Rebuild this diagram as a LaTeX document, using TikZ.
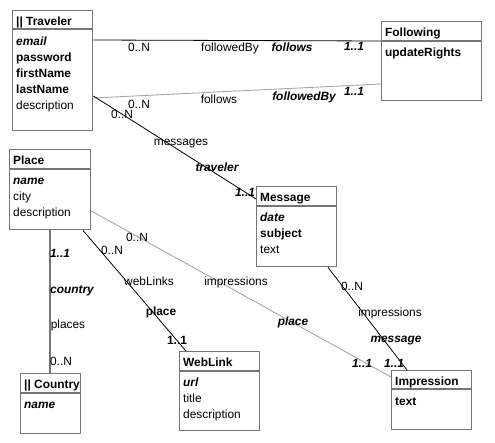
\documentclass[tikz,border=0pt]{standalone}
\usepackage{fontspec}
\setmainfont{Liberation Sans}
\definecolor{boxgray}{RGB}{118,118,118}
\definecolor{linkgray}{RGB}{165,165,165}
\begin{document}
\begin{tikzpicture}[x=1pt, y=-1pt,
    entity/.style={draw=boxgray, line width=1.4pt, rectangle, anchor=north west, inner sep=0pt},
    hdr/.style={draw=boxgray, line width=1.4pt},
    title/.style={anchor=base west, inner sep=0pt, font=\txt\bfseries},
    key/.style={anchor=base west, inner sep=0pt, font=\txt\bfseries\itshape},
    req/.style={anchor=base west, inner sep=0pt, font=\txt\bfseries},
    plain/.style={anchor=base west, inner sep=0pt, font=\txt},
    lbl/.style={anchor=base, inner sep=0pt, font=\txt},
    role/.style={anchor=base, inner sep=0pt, font=\txt\bfseries\itshape},
    bold/.style={anchor=base, inner sep=0pt, font=\txt\bfseries},
    link/.style={draw=black, line width=0.8pt},
    glink/.style={draw=linkgray, line width=0.9pt},
    tlink/.style={draw=boxgray, line width=1.6pt}]
  \def\txt{\fontsize{11.9}{14}\selectfont}
  \useasboundingbox (0,0) rectangle (495,442);
  % entities
  \foreach \n/\x/\y/\w/\h/\d/\t in {traveler/12/10/80/120/19/{|| Traveler},
      following/381/21/100/79/20/Following, place/9/149/81/80/20/Place,
      message/256/186/80/80/20/Message, country/20/373/60/60/20/{|| Country},
      weblink/179/351/80/79/20/WebLink, impression/391/370/80/59/19/Impression} {
    \node[entity, minimum width=\w pt, minimum height=\h pt] (\n) at (\x,\y) {};
    \draw[hdr] ([yshift=-\d pt]\n.north west) -- ([yshift=-\d pt]\n.north east);
    \node[title] (\n T) at ([xshift=4pt,yshift=-15pt]\n.north west) {\t};
  }
  % attributes
  \foreach \n/\i/\s/\f in {traveler/1/key/email, traveler/2/req/password,
      traveler/3/req/firstName, traveler/4/req/lastName, traveler/5/plain/description,
      following/1/req/updateRights, place/1/key/name, place/2/plain/city,
      place/3/plain/description, message/1/key/date, message/2/req/subject,
      message/3/plain/text, country/1/key/name, weblink/1/key/url,
      weblink/2/plain/title, weblink/3/plain/description, impression/1/req/text}
    \node[\s] (\n\i) at ([xshift=4pt,yshift={-19pt-16pt*\i}]\n.north west) {\f};
  % relationships
  \draw[link] ([yshift=-30pt]traveler.north east) -- ([yshift=-20pt]following.north west);
  \draw[glink] ([yshift=-88pt]traveler.north east) -- ([yshift=-63pt]following.north west);
  \draw[link] ([yshift=-86pt]traveler.north east) -- ([yshift=-13pt]message.north west);
  \draw[tlink] ([xshift=41pt]place.south west) -- ([xshift=30pt]country.north west);
  \draw[link] ([xshift=74pt]place.south west) -- ([xshift=7pt]weblink.north west);
  \draw[glink] ([yshift=-62pt]place.north east) -- ([yshift=-7pt]impression.north west);
  \draw[link] ([xshift=72pt]message.south west) -- ([xshift=16pt]impression.north west);
  % role labels
  \foreach \x/\y/\s/\t [count=\i] in {139/51/lbl/0..N, 230/51/lbl/followedBy,
      292/51/role/follows, 354/50/role/1..1, 139/108/lbl/0..N, 219/103/lbl/follows,
      304/100/role/followedBy, 354/95/role/1..1, 122/118/lbl/0..N,
      181/145/lbl/messages, 217/171/role/traveler, 245/196/role/1..1,
      60/257/role/1..1, 72/293/role/country, 68/328/lbl/places, 61/365/lbl/0..N,
      112/254/lbl/0..N, 149/285/lbl/webLinks, 161/315/bold/place, 177/344/bold/1..1,
      137/241/lbl/0..N, 236/285/lbl/impressions, 293/325/role/place,
      362/367/role/1..1, 352/290/lbl/0..N, 390/316/lbl/impressions,
      396/342/role/message, 394/367/role/1..1}
    \node[\s] (lab\i) at (\x,\y) {\t};
\end{tikzpicture}
\end{document}
